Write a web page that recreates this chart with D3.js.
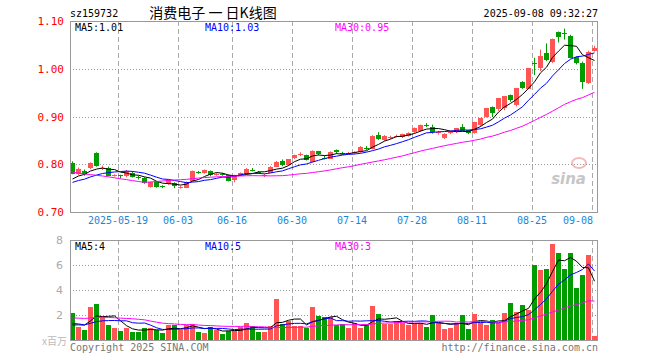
<!DOCTYPE html>
<html><head><meta charset="utf-8">
<script src="https://cdn.jsdelivr.net/npm/d3@7"></script>
<style>body{margin:0;background:#fff}svg{display:block}</style>
</head><body><svg id="c" width="660" height="360"></svg>
<script>
// ---------- data ----------
const dates = ["05-07","05-08","05-09","05-12","05-13","05-14","05-15","05-16",
"05-19","05-20","05-21","05-22","05-23","05-26","05-27","05-28","05-29","05-30",
"06-03","06-04","06-05","06-06","06-09","06-10","06-11","06-12","06-13",
"06-16","06-17","06-18","06-19","06-20","06-23","06-24","06-25","06-26","06-27",
"06-30","07-01","07-02","07-03","07-04","07-07","07-08","07-09","07-10","07-11",
"07-14","07-15","07-16","07-17","07-18","07-21","07-22","07-23","07-24","07-25",
"07-28","07-29","07-30","07-31","08-01","08-04","08-05","08-06","08-07","08-08",
"08-11","08-12","08-13","08-14","08-15","08-18","08-19","08-20","08-21","08-22",
"08-25","08-26","08-27","08-28","08-29","09-01","09-02","09-03","09-04","09-05","09-08"];
const open = [0.803,0.779,0.786,0.792,0.823,0.792,0.793,0.776,0.777,0.775,
0.782,0.773,0.771,0.752,0.763,0.755,0.758,0.761,0.752,0.751,
0.765,0.784,0.781,0.785,0.779,0.780,0.777,0.766,0.777,0.779,
0.789,0.784,0.777,0.783,0.795,0.807,0.798,0.812,0.820,0.819,
0.805,0.827,0.814,0.812,0.829,0.824,0.823,0.823,0.825,0.834,
0.832,0.861,0.851,0.856,0.859,0.856,0.860,0.867,0.869,0.882,
0.878,0.866,0.856,0.866,0.867,0.879,0.871,0.865,0.882,0.899,
0.919,0.914,0.917,0.944,0.924,0.972,0.958,1.012,1.002,1.032,
1.014,1.076,1.074,1.069,1.024,1.013,0.971,1.037];
const high = [0.806,0.793,0.789,0.804,0.825,0.797,0.795,0.779,0.778,0.788,
0.785,0.776,0.773,0.764,0.765,0.756,0.768,0.762,0.755,0.764,
0.787,0.786,0.789,0.787,0.782,0.782,0.778,0.778,0.783,0.792,
0.792,0.786,0.780,0.796,0.807,0.810,0.811,0.820,0.825,0.820,
0.829,0.828,0.818,0.827,0.831,0.826,0.826,0.827,0.838,0.838,
0.861,0.867,0.861,0.860,0.862,0.864,0.867,0.877,0.883,0.886,
0.883,0.870,0.865,0.870,0.876,0.884,0.872,0.889,0.897,0.918,
0.921,0.939,0.943,0.946,0.960,0.974,1.002,1.023,1.040,1.053,
1.063,1.078,1.084,1.071,1.026,1.015,1.038,1.048];
const low = [0.779,0.777,0.776,0.790,0.795,0.788,0.775,0.774,0.770,0.773,
0.772,0.768,0.759,0.751,0.751,0.750,0.757,0.750,0.749,0.750,
0.764,0.780,0.780,0.775,0.776,0.776,0.764,0.762,0.776,0.778,
0.785,0.780,0.773,0.782,0.794,0.796,0.797,0.811,0.817,0.808,
0.804,0.819,0.810,0.811,0.822,0.820,0.821,0.821,0.824,0.830,
0.831,0.851,0.849,0.853,0.856,0.855,0.858,0.865,0.868,0.878,
0.864,0.862,0.853,0.863,0.865,0.869,0.863,0.864,0.879,0.898,
0.899,0.912,0.913,0.931,0.921,0.958,0.957,0.987,0.995,1.016,
1.012,1.055,1.061,1.022,1.009,0.958,0.968,1.036];
const close = [0.781,0.790,0.779,0.803,0.796,0.793,0.776,0.777,0.776,0.786,
0.774,0.772,0.760,0.763,0.753,0.754,0.767,0.755,0.753,0.763,
0.786,0.783,0.787,0.777,0.780,0.779,0.765,0.777,0.782,0.790,
0.788,0.783,0.778,0.795,0.805,0.798,0.810,0.819,0.821,0.809,
0.828,0.820,0.813,0.826,0.824,0.823,0.824,0.826,0.836,0.833,
0.860,0.853,0.860,0.857,0.860,0.863,0.866,0.876,0.882,0.881,
0.868,0.867,0.864,0.867,0.875,0.871,0.865,0.888,0.896,0.917,
0.907,0.938,0.942,0.933,0.959,0.959,1.001,1.011,1.027,1.018,
1.062,1.066,1.073,1.023,1.011,0.973,1.036,1.043];
// volume, millions
const volume = [2.18,1.06,0.82,2.66,2.90,1.92,1.17,0.98,0.74,0.93,
0.66,0.66,0.98,0.98,0.80,0.54,1.20,1.17,0.80,1.20,
1.30,0.66,0.58,1.06,0.78,0.50,0.74,0.72,1.06,1.38,
1.14,0.66,0.66,1.14,3.30,1.30,1.50,1.14,1.14,0.94,
2.66,1.94,1.86,1.82,1.20,1.30,0.98,1.40,1.00,1.20,
2.74,2.10,1.25,1.25,1.52,1.38,1.20,1.25,1.38,1.06,
1.97,1.38,0.85,0.98,1.38,2.02,0.90,2.10,1.38,1.20,
1.57,1.38,2.18,2.98,2.26,2.82,2.40,5.97,5.62,5.70,
7.70,6.98,5.70,6.95,4.18,5.22,6.82,0.34];
// the 29 sessions before the first visible one (needed for the moving averages)
const priorClose = [0.845,0.840,0.838,0.842,0.835,0.830,0.836,0.840,0.838,0.832,0.830,0.815,
0.740,0.720,0.725,0.730,0.728,0.735,0.740,0.742,
0.750,0.752,0.755,0.758,0.760,0.758,0.762,0.768,0.776];
const priorVolume = [1.6,1.5,1.7,1.4,1.6,1.5,1.8,1.7,1.6,1.5,1.9,2.2,
4.0,3.5,2.8,2.4,2.0,1.9,1.6,1.5,
1.5,1.6,1.4,1.5,1.3,1.0,0.9,1.0,0.92];
const priceTicks = [0.70,0.80,0.90,1.00,1.10];
const volTicks = [2,4,6,8];
const xTickDates = ["05-19","06-03","06-16","06-30","07-14","07-28","08-11","08-25","09-08"];
const xTickLabels = ["2025-05-19","06-03","06-16","06-30","07-14","07-28","08-11","08-25","09-08"];
const maPeriods = [5,10,30];
const maColors = ["#000000","#0000ff","#ff00ff"];
const priceLegend = ["MA5:1.01","MA10:1.03","MA30:0.95"];
const volLegend = ["MA5:4","MA10:5","MA30:3"];
const code = "sz159732", title = "消费电子 一 日K线图", stamp = "2025-09-08 09:32:27";

// ---------- layout ----------
const svg = d3.select("#c");
const L = 70, R = 598, PT = 21, PB = 212, VT = 240, VB = 340;
const MONO = "'DejaVu Sans Mono', 'Liberation Mono', monospace";
const RED = "#ff5555", GREEN = "#009c00";
const x = d3.scaleBand().domain(dates).range([L, R]);
const bx = d => Math.round(x(d));
const cx = d => Math.round(x(d)) + 2.5;
const yP = d3.scaleLinear().domain([0.70, 1.10]).range([PB, PT]);
const yV = d3.scaleLinear().domain([0, 8]).range([VB, VT]);

function movingAvg(prior, vals, n) {
  const all = prior.concat(vals), off = prior.length;
  return vals.map((_, i) => d3.mean(all.slice(off + i - n + 1, off + i + 1)));
}

// grids
function grid(top, bottom, yScale, hTicks) {
  const g = svg.append("g");
  g.selectAll("line.v").data(xTickDates).join("line")
    .attr("x1", d => bx(d) + 0.5).attr("x2", d => bx(d) + 0.5)
    .attr("y1", top).attr("y2", bottom)
    .attr("stroke", "#aaa").attr("stroke-dasharray", "5,3");
  g.selectAll("line.h").data(hTicks).join("line")
    .attr("x1", L).attr("x2", R)
    .attr("y1", d => Math.round(yScale(d)) + 0.5).attr("y2", d => Math.round(yScale(d)) + 0.5)
    .attr("stroke", "#999").attr("stroke-dasharray", "1,2");
}
grid(PT, PB, yP, [0.80, 0.90, 1.00]);
grid(VT, VB, yV, [2, 4, 6]);

// watermark
const wm = svg.append("g").attr("opacity", 0.55);
wm.append("ellipse").attr("cx", 579).attr("cy", 163).attr("rx", 7).attr("ry", 5)
  .attr("fill", "none").attr("stroke", "#f08080").attr("stroke-width", 2);
wm.append("text").attr("x", 586).attr("y", 184).attr("text-anchor", "end")
  .attr("font-family", "Verdana, 'DejaVu Sans', sans-serif").attr("font-style", "italic")
  .attr("font-weight", "bold").attr("font-size", 15).attr("fill", "#999").text("sina");

// candles
const idx = d3.range(dates.length);
const up = i => close[i] >= open[i];
const cg = svg.append("g");
cg.selectAll("line").data(idx).join("line")
  .attr("x1", i => cx(dates[i])).attr("x2", i => cx(dates[i]))
  .attr("y1", i => yP(high[i])).attr("y2", i => yP(low[i]))
  .attr("stroke", i => up(i) ? RED : GREEN).attr("stroke-width", 1);
cg.selectAll("rect").data(idx).join("rect")
  .attr("x", i => bx(dates[i])).attr("width", 5)
  .attr("y", i => Math.round(yP(Math.max(open[i], close[i]))))
  .attr("height", i => Math.max(1, Math.round(Math.abs(yP(open[i]) - yP(close[i])))))
  .attr("fill", i => up(i) ? RED : GREEN);

// price MAs
maPeriods.forEach((p, k) => {
  const m = movingAvg(priorClose, close, p);
  svg.append("path").datum(idx)
    .attr("d", d3.line().x(i => cx(dates[i])).y(i => yP(m[i])))
    .attr("fill", "none").attr("stroke", maColors[k]).attr("stroke-width", 1);
});

// volume bars
svg.append("g").selectAll("rect").data(idx).join("rect")
  .attr("x", i => bx(dates[i])).attr("width", 5)
  .attr("y", i => Math.round(yV(volume[i])))
  .attr("height", i => VB - Math.round(yV(volume[i])))
  .attr("fill", i => up(i) ? RED : GREEN);
maPeriods.forEach((p, k) => {
  const m = movingAvg(priorVolume, volume, p);
  svg.append("path").datum(idx)
    .attr("d", d3.line().x(i => cx(dates[i])).y(i => yV(m[i])))
    .attr("fill", "none").attr("stroke", maColors[k]).attr("stroke-width", 1);
});

// frames
[[PT, PB], [VT, VB]].forEach(([t, b]) => {
  svg.append("rect").attr("x", L + 0.5).attr("y", t + 0.5)
    .attr("width", R - L - 1).attr("height", b - t)
    .attr("fill", "none").attr("stroke", "#999");
});

// price axis labels
const pAxis = svg.append("g").attr("transform", `translate(${L - 3},0)`)
  .call(d3.axisLeft(yP).tickValues(priceTicks).tickFormat(d3.format(".2f")).tickSize(0));
pAxis.select(".domain").remove();
pAxis.selectAll("text").attr("font-family", MONO).attr("font-size", 11).attr("fill", "#ff0000");

// volume axis labels
const vAxis = svg.append("g").attr("transform", `translate(${L - 4},0)`)
  .call(d3.axisLeft(yV).tickValues(volTicks).tickFormat(d3.format("d")).tickSize(0));
vAxis.select(".domain").remove();
vAxis.selectAll("text").attr("font-family", "'DejaVu Sans', sans-serif").attr("font-size", 11).attr("fill", "#aaa");
svg.append("text").attr("x", L - 3).attr("y", VB + 5).attr("text-anchor", "end")
  .attr("font-family", "'Noto Sans CJK SC', sans-serif").attr("font-size", 10).attr("fill", "#bbb").text("x百万");

// date labels
svg.append("g").selectAll("text").data(xTickDates).join("text")
  .attr("x", (d, i) => i === xTickDates.length - 1 ? bx(d) + 1 : bx(d))
  .attr("y", PB + 12)
  .attr("text-anchor", (d, i) => i === xTickDates.length - 1 ? "end" : "middle")
  .attr("font-family", MONO).attr("font-size", 10).attr("fill", "#1a86d8")
  .text((d, i) => xTickLabels[i]);

// legends
const legX = [75, 205, 335];
priceLegend.forEach((t, k) => svg.append("text").attr("x", legX[k]).attr("y", PT + 10)
  .attr("font-family", MONO).attr("font-size", 10).attr("fill", maColors[k]).text(t));
volLegend.forEach((t, k) => svg.append("text").attr("x", legX[k]).attr("y", VT + 10)
  .attr("font-family", MONO).attr("font-size", 10).attr("fill", maColors[k]).text(t));

// header
svg.append("text").attr("x", L).attr("y", 17).attr("font-family", MONO).attr("font-size", 10).text(code);
svg.append("text").attr("x", 213).attr("y", 18).attr("text-anchor", "middle").attr("xml:space", "preserve")
  .attr("font-family", "'Noto Sans CJK SC', sans-serif").attr("font-size", 14).text(title);
svg.append("text").attr("x", R).attr("y", 17).attr("text-anchor", "end")
  .attr("font-family", MONO).attr("font-size", 10).text(stamp);

// footer
svg.append("text").attr("x", L).attr("y", VB + 11).attr("font-family", MONO).attr("font-size", 10)
  .attr("fill", "#777").text("Copyright 2025 SINA.COM");
svg.append("text").attr("x", R).attr("y", VB + 11).attr("text-anchor", "end").attr("font-family", MONO)
  .attr("font-size", 10).attr("fill", "#777").text("http://finance.sina.com.cn");
</script></body></html>
